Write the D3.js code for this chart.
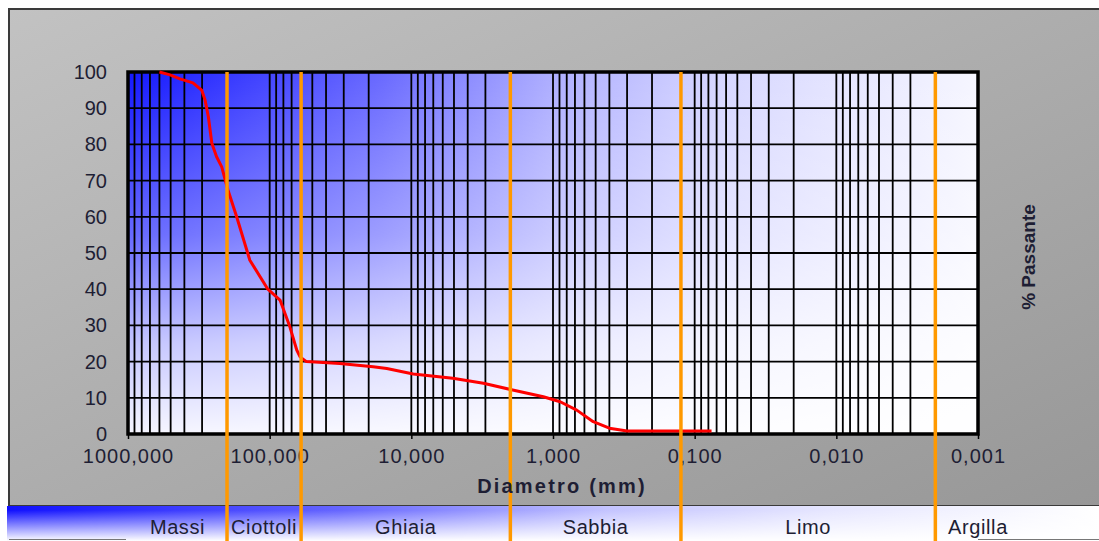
<!DOCTYPE html>
<html lang="it">
<head>
<meta charset="UTF-8">
<title>Curva granulometrica</title>
<script src="https://d3js.org/d3.v7.min.js"></script>
<style>
body { margin: 0; background: #fff; overflow: hidden; }
svg { display: block; font-family: "Liberation Sans", Arial, sans-serif; }
.tick text { fill: #1e1e34; font-size: 20px; }
.grid line { stroke: #000; stroke-width: 1.8; }
.band-label { fill: #1e1e34; font-size: 20px; text-anchor: middle; letter-spacing: 0.6px; }
</style>
</head>
<body>
<svg width="1099" height="541"></svg>
<script>
// diametro (mm) e % passante
const diametri = [600, 505, 430, 348, 302, 286, 271, 256, 237, 218, 197, 171, 138, 103,
  84.5, 72, 64.4, 61, 55, 32, 18.6, 14.9, 9.7, 5.1, 3.1, 2.0, 1.17, 0.89, 0.68, 0.52,
  0.40, 0.30, 0.076];
const passante = [100, 99.2, 98.1, 97.0, 95.0, 92.3, 87.7, 80.3, 76.6, 73.8, 67.4, 60, 48, 40,
  37, 29.6, 23.2, 21.3, 20, 19.5, 18.6, 18.1, 16.6, 15.4, 14, 12.3, 10.3, 8.9, 6.6, 3.4,
  1.6, 0.8, 0.8];

// limiti tra le classi (mm) e nomi delle classi
const limitiClassi = [1000, 200, 60, 2, 0.125, 0.002, 0.0005];
const classi = ["Massi", "Ciottoli", "Ghiaia", "Sabbia", "Limo", "Argilla"];

const xTicks = [1000, 100, 10, 1, 0.1, 0.01, 0.001];
const xTickLabels = ["1000,000", "100,000", "10,000", "1,000", "0,100", "0,010", "0,001"];
const yTicks = [0, 10, 20, 30, 40, 50, 60, 70, 80, 90, 100];

const svg = d3.select("svg");
const W = 1099, H = 541;
const plot = {left: 128, right: 978, top: 72, bottom: 434};

const x = d3.scaleLog().domain([1000, 0.001]).range([plot.left, plot.right]);
const y = d3.scaleLinear().domain([0, 100]).range([plot.bottom, plot.top]);

const defs = svg.append("defs");

function linGrad(id, x1, y1, x2, y2, stops) {
  const g = defs.append("linearGradient").attr("id", id)
    .attr("x1", x1).attr("y1", y1).attr("x2", x2).attr("y2", y2);
  stops.forEach(s => g.append("stop").attr("offset", s[0])
    .attr("stop-color", s[1]).attr("stop-opacity", s[2] == null ? 1 : s[2]));
}

linGrad("grigio", 0, 0, 1, 1, [[0, "#c2c2c2"], [1, "#979797"]]);
linGrad("bluOriz", 0, 0, 1, 0, [[0, "#1418ff"], [0.3, "#6a6aff"], [0.5, "#aeaeff"],
  [0.7, "#d6d6ff"], [1, "#f6f6ff"]]);
linGrad("biancoVert", 0, 0, 0, 1, [[0, "#fff", 0], [0.45, "#fff", 0.35], [0.75, "#fff", 0.75],
  [1, "#fff", 0.96]]);
linGrad("bandaOriz", 0, 0, 1, 0, [[0, "#1010ff"], [0.3, "#6464ff"], [0.55, "#c4c4ff"],
  [0.75, "#e6e6ff"], [1, "#ffffff"]]);
linGrad("bandaVert", 0, 0, 0, 1, [[0.12, "#fff", 0], [1, "#fff", 1]]);

// cornice grigia
svg.append("rect")
  .attr("x", 9).attr("y", 9).attr("width", W).attr("height", 497)
  .attr("fill", "url(#grigio)").attr("stroke", "#3a3a3a").attr("stroke-width", 2);

// banda classi in basso
svg.append("rect").attr("x", 7).attr("y", 506).attr("width", W - 7).attr("height", 35)
  .attr("fill", "url(#bandaOriz)");
svg.append("rect").attr("x", 7).attr("y", 506).attr("width", W - 7).attr("height", 35)
  .attr("fill", "url(#bandaVert)");
svg.append("line").attr("x1", 9).attr("x2", 126).attr("y1", 539.5).attr("y2", 539.5)
  .attr("stroke", "#777").attr("stroke-width", 1);
svg.append("line").attr("x1", 978).attr("x2", W).attr("y1", 539.5).attr("y2", 539.5)
  .attr("stroke", "#777").attr("stroke-width", 1);

// sfondo area grafico
const pw = plot.right - plot.left, ph = plot.bottom - plot.top;
svg.append("rect").attr("x", plot.left).attr("y", plot.top).attr("width", pw).attr("height", ph)
  .attr("fill", "url(#bluOriz)");
svg.append("rect").attr("x", plot.left).attr("y", plot.top).attr("width", pw).attr("height", ph)
  .attr("fill", "url(#biancoVert)");

// griglia
const grid = svg.append("g").attr("class", "grid");
grid.selectAll(".v").data(x.ticks()).enter().append("line")
  .attr("x1", d => x(d)).attr("x2", d => x(d))
  .attr("y1", plot.top).attr("y2", plot.bottom);
grid.selectAll(".h").data(yTicks).enter().append("line")
  .attr("x1", plot.left).attr("x2", plot.right)
  .attr("y1", d => y(d)).attr("y2", d => y(d));

// bordo
svg.append("rect").attr("x", plot.left).attr("y", plot.top).attr("width", pw).attr("height", ph)
  .attr("fill", "none").attr("stroke", "#000").attr("stroke-width", 3.5);

// assi
const xAxis = d3.axisBottom(x).tickValues(xTicks)
  .tickFormat((d, i) => xTickLabels[i]).tickSize(5).tickSizeOuter(0).tickPadding(10);
const gx = svg.append("g").attr("transform", `translate(0,${plot.bottom})`).call(xAxis);
gx.select(".domain").remove();
gx.selectAll(".tick line").attr("stroke", "#000").attr("stroke-width", 1.5);
gx.selectAll(".tick text").attr("font-family", null).attr("font-size", null)
  .style("letter-spacing", "1px");

const yAxis = d3.axisLeft(y).tickValues(yTicks).tickSize(0).tickPadding(21);
const gy = svg.append("g").attr("transform", `translate(${plot.left},0)`).call(yAxis);
gy.select(".domain").remove();
gy.selectAll(".tick text").attr("font-family", null).attr("font-size", null);

// curva granulometrica
const punti = diametri.map((d, i) => [d, passante[i]]);
svg.append("path").datum(punti)
  .attr("fill", "none").attr("stroke", "#ff0000").attr("stroke-width", 3)
  .attr("stroke-linejoin", "round")
  .attr("d", d3.line().x(d => x(d[0])).y(d => y(d[1])));

// linee di separazione classi
svg.selectAll(".limite").data(limitiClassi.slice(1, -1)).enter().append("line")
  .attr("x1", d => x(d)).attr("x2", d => x(d))
  .attr("y1", plot.top).attr("y2", H)
  .attr("stroke", "#ff9900").attr("stroke-width", 3.5);

// nomi classi
svg.selectAll(".band-label").data(classi).enter().append("text")
  .attr("class", "band-label")
  .attr("x", (d, i) => x(Math.sqrt(limitiClassi[i] * limitiClassi[i + 1])))
  .attr("y", 534)
  .text(d => d);

// titoli assi
svg.append("text")
  .attr("x", 562).attr("y", 493)
  .attr("text-anchor", "middle").attr("font-weight", "bold").attr("font-size", 20)
  .style("letter-spacing", "2.2px").attr("fill", "#1e1e34")
  .text("Diametro (mm)");

svg.append("text")
  .attr("transform", "translate(1035,257) rotate(-90)")
  .attr("text-anchor", "middle").attr("font-weight", "bold").attr("font-size", 19)
  .attr("fill", "#1e1e34")
  .text("% Passante");
</script>
</body>
</html>
